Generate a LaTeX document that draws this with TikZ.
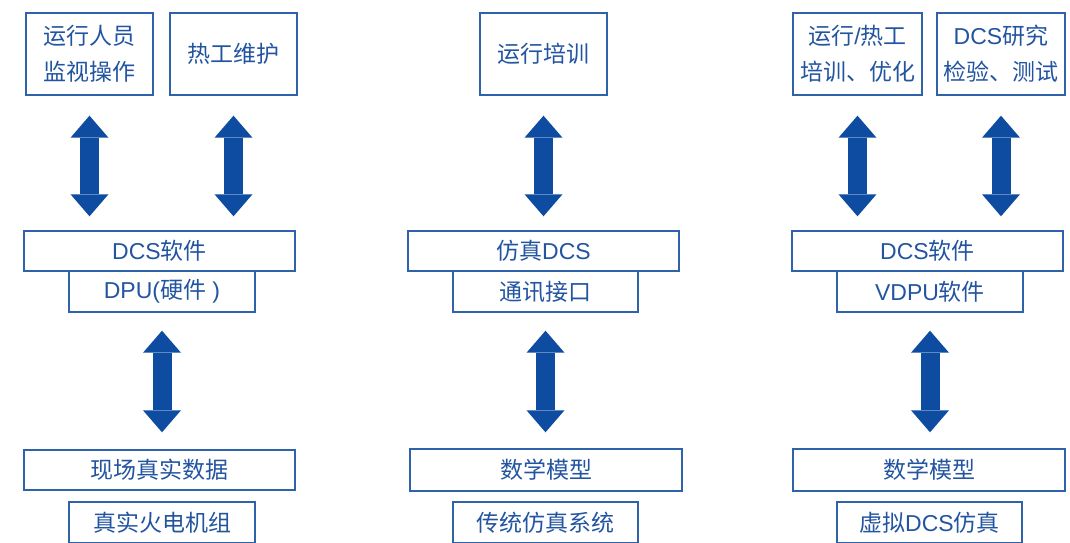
\documentclass[tikz,border=0pt]{standalone}
\usepackage{fontspec}
\setmainfont{Noto Sans CJK SC}
\newfontfamily\lat{Liberation Sans}
\usetikzlibrary{arrows.meta}
\definecolor{boxblue}{RGB}{46,98,170}
\definecolor{txtblue}{RGB}{34,84,160}
\definecolor{arrblue}{RGB}{13,76,160}
\tikzset{
  box/.style={draw=boxblue, line width=1.4pt, text=txtblue, inner sep=0pt, align=center,
    font=\fontsize{23}{36}\selectfont},
  fatarrow/.style={draw=arrblue, line width=19pt,
    {Triangle[width=38pt,length=22pt,line width=0pt,fill=arrblue]}-{Triangle[width=38pt,length=22pt,line width=0pt,fill=arrblue]}},
}
\begin{document}
\begin{tikzpicture}[x=1pt,y=-1pt]
\useasboundingbox (0,0) rectangle (1070,543);
% top boxes
\node[box, minimum width=127pt, minimum height=82pt] (t1) at (89.5,54) {运行人员\\监视操作};
\node[box, minimum width=127pt, minimum height=82pt] (t2) at (233.5,54) {热工维护};
\node[box, minimum width=127pt, minimum height=82pt] (t3) at (543.5,54) {运行培训};
\node[box, minimum width=129pt, minimum height=82pt] (t4) at (857.5,54) {运行{\lat/}热工\\培训、优化};
\node[box, minimum width=128pt, minimum height=82pt] (t5) at (1001,54) {{\lat DCS}研究\\检验、测试};
% middle boxes
\node[box, minimum width=271pt, minimum height=40pt] (m1) at (159.5,251) {{\lat DCS}软件};
\node[box, minimum width=186pt, minimum height=41pt] (m1b) at (162,291.5) {{\lat DPU(}硬件{\lat\ )}};
\node[box, minimum width=271pt, minimum height=40pt] (m2) at (543.5,251) {仿真{\lat DCS}};
\node[box, minimum width=185pt, minimum height=41pt] (m2b) at (545.5,291.5) {通讯接口};
\node[box, minimum width=271pt, minimum height=40pt] (m3) at (927.5,251) {{\lat DCS}软件};
\node[box, minimum width=186pt, minimum height=41pt] (m3b) at (930,291.5) {{\lat VDPU}软件};
% bottom boxes
\node[box, minimum width=271pt, minimum height=40pt] (b1) at (159.5,470) {现场真实数据};
\node[box, minimum width=186pt, minimum height=41pt] (b1b) at (162,522.5) {真实火电机组};
\node[box, minimum width=272pt, minimum height=42pt] (b2) at (546,470) {数学模型};
\node[box, minimum width=185pt, minimum height=41pt] (b2b) at (545.5,522.5) {传统仿真系统};
\node[box, minimum width=272pt, minimum height=42pt] (b3) at (929,470) {数学模型};
\node[box, minimum width=185pt, minimum height=41pt] (b3b) at (929.5,522.5) {虚拟{\lat DCS}仿真};
% arrows
\draw[fatarrow, shorten <=20pt, shorten >=14pt] (t1.south) -- (t1.south |- m1.north);
\draw[fatarrow, shorten <=20pt, shorten >=14pt] (t2.south) -- (t2.south |- m1.north);
\draw[fatarrow, shorten <=20pt, shorten >=14pt] (t3.south) -- (t3.south |- m2.north);
\draw[fatarrow, shorten <=20pt, shorten >=14pt] (t4.south) -- (t4.south |- m3.north);
\draw[fatarrow, shorten <=20pt, shorten >=14pt] (t5.south) -- (t5.south |- m3.north);
\draw[fatarrow, shorten <=18pt, shorten >=17pt] (m1b.south) -- (m1b.south |- b1.north);
\draw[fatarrow, shorten <=18pt, shorten >=16pt] (m2b.south) -- (m2b.south |- b2.north);
\draw[fatarrow, shorten <=18pt, shorten >=16pt] (m3b.south) -- (m3b.south |- b3.north);
\end{tikzpicture}
\end{document}
